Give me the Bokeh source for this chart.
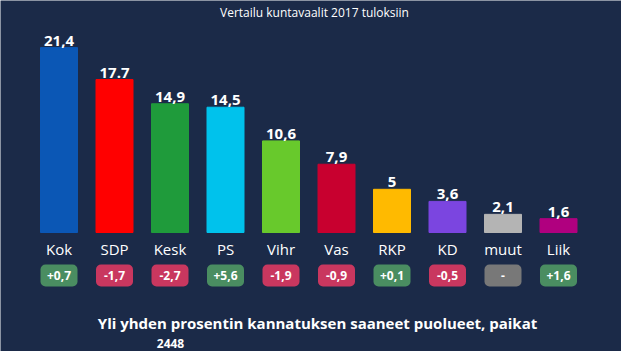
from bokeh.plotting import figure
from bokeh.models import ColumnDataSource, Range1d, Label
from bokeh.core.properties import value
from bokeh.embed import file_html
from bokeh.resources import INLINE

parties = ["Kok", "SDP", "Kesk", "PS", "Vihr", "Vas", "RKP", "KD", "muut", "Liik"]
shares = [21.4, 17.7, 14.9, 14.5, 10.6, 7.9, 5.0, 3.6, 2.1, 1.6]
share_labels = ["21,4", "17.7", "14,9", "14,5", "10,6", "7,9", "5", "3,6", "2,1", "1,6"]
changes = ["+0,7", "-1,7", "-2,7", "+5,6", "-1,9", "-0,9", "+0,1", "-0,5", "-", "+1,6"]
bar_colors = ["#0b57b5", "#ff0000", "#1f9b3b", "#00c2ec", "#68c92c",
              "#c8002f", "#ffba00", "#7b45e0", "#b4b4b4", "#b0007f"]

BG = "#1b2a48"
W, H = 621, 351
PX = 8.64            # pixels per percentage point
BASE = 232           # pixel row (from top) of the bar baseline
STEP = 55.5          # pixels between bar centres
X0 = 58.5            # pixel centre of first bar

def badge_color(c):
    if c.startswith("+"):
        return "#4a8d61"
    if c.startswith("-") and len(c) > 1:
        return "#c9375f"
    return "#787878"

xs = list(range(len(parties)))
src = ColumnDataSource(dict(
    x=xs, top=shares, label=share_labels, party=parties, change=changes,
    color=bar_colors, bcolor=[badge_color(c) for c in changes],
))

y_start = -(H - BASE) / PX
y_end = BASE / PX
x_start = -X0 / STEP
x_end = x_start + W / STEP

p = figure(width=W, height=H, output_backend="svg", toolbar_location=None,
           x_range=Range1d(x_start, x_end), y_range=Range1d(y_start, y_end),
           min_border=0, background_fill_color=BG, border_fill_color=BG,
           outline_line_color=None)
p.axis.visible = False
p.grid.visible = False

p.vbar(x="x", top="top", bottom=0, width=37 / STEP, color="color", source=src)

p.text(x="x", y="top", text="label", source=src, y_offset=-2,
       text_align="center", text_baseline="bottom", text_color="white",
       text_font=value("Open Sans"), text_font_style="bold", text_font_size="15px")

p.text(x="x", y=0, text="party", source=src, y_offset=16,
       text_align="center", text_baseline="middle", text_color="white",
       text_font=value("Open Sans"), text_font_size="15px")

badge_y = -(275 - BASE) / PX
p.rect(x="x", y=badge_y, width=37, height=22, width_units="screen",
       height_units="screen", fill_color="bcolor", line_color=None,
       border_radius=5, source=src)
p.text(x="x", y=badge_y, text="change", source=src,
       text_align="center", text_baseline="middle", text_color="white",
       text_font=value("Open Sans"), text_font_style="bold", text_font_size="12px")

p.add_layout(Label(x=314, y=H - 12, x_units="screen", y_units="screen",
                   text="Vertailu kuntavaalit 2017 tuloksiin", text_align="center",
                   text_baseline="middle", text_color="white",
                   text_font="Open Sans", text_font_size="12px"))
p.add_layout(Label(x=317, y=H - 322, x_units="screen", y_units="screen",
                   text="Yli yhden prosentin kannatuksen saaneet puolueet, paikat",
                   text_align="center", text_baseline="middle", text_color="white",
                   text_font="Open Sans", text_font_style="bold", text_font_size="15px"))
p.add_layout(Label(x=170, y=4, x_units="screen", y_units="screen",
                   text="2448", text_align="center", text_baseline="bottom",
                   text_color="white", text_font="Open Sans",
                   text_font_style="bold", text_font_size="12px"))

open("out.html", "w").write(file_html(p, INLINE))
